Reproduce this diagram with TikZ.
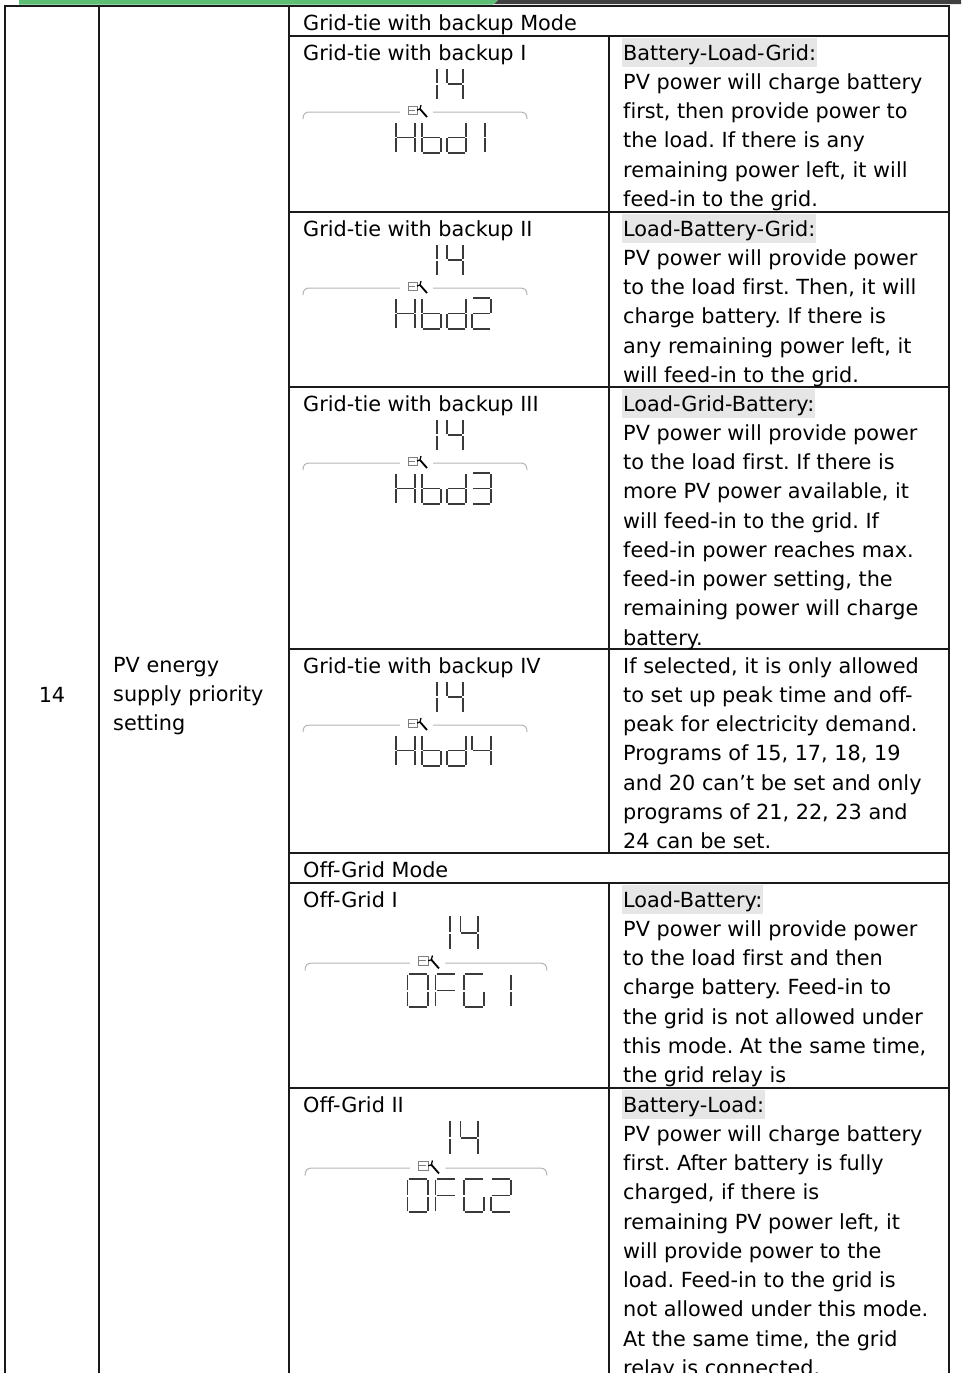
\documentclass[tikz,border=0pt]{standalone}
\usepackage{fontspec}
\setmainfont{DejaVu Sans}[Ligatures=NoCommon]
\frenchspacing
\definecolor{hl}{HTML}{E6E6E6}
\definecolor{topgreen}{HTML}{5CBF75}
\definecolor{topdark}{HTML}{404040}
\definecolor{rulec}{HTML}{1A1A1A}
\definecolor{segc}{HTML}{3A3A3A}
\definecolor{lcdl}{HTML}{B4B4B4}
\newcommand\cellfont{\fontsize{20.8}{29.25}\selectfont}
\def\sgp{0.9}
\def\sgw{19}
\def\sgh{31}
\newcommand\segA{\draw[segline] (\sgp,0)--(\sgw-\sgp,0);}
\newcommand\segB{\draw[segline] (\sgw,\sgp)--(\sgw,\sgh/2-\sgp);}
\newcommand\segC{\draw[segline] (\sgw,\sgh/2+\sgp)--(\sgw,\sgh-\sgp);}
\newcommand\segD{\draw[segline] (\sgp,\sgh)--(\sgw-\sgp,\sgh);}
\newcommand\segE{\draw[segline] (0,\sgh/2+\sgp)--(0,\sgh-\sgp);}
\newcommand\segF{\draw[segline] (0,\sgp)--(0,\sgh/2-\sgp);}
\newcommand\segG{\draw[segline] (\sgp,\sgh/2)--(\sgw-\sgp,\sgh/2);}
\newcommand\lcdch[3]{\begin{scope}[shift={(#1,#2)}]\foreach \s in {#3}{\csname seg\s\endcsname}\end{scope}}
\newcommand\lcdframe{%
  \def\sgw{16}\def\sgh{32}%
  \lcdch{118}{-44}{B,C}%
  \lcdch{144}{-44}{F,G,B,C}%
  \draw[lcdline] (0,7) .. controls (0,2) and (2,0) .. (7,0) -- (97,0);
  \draw[lcdline] (130,0) -- (217,0) .. controls (222,0) and (224,2) .. (224,7);
  \draw[draw=gray, line width=0.8pt] (105,-6) rectangle (114,2);
  \draw[draw=gray, line width=0.8pt] (105,-2) -- (112,-2);
  \draw[draw=black, line width=1.8pt] (117,-3) -- (124,5);
  \draw[draw=black, line width=1.3pt] (114,-2) -- (117,-3) -- (118,-7);
  \def\sgw{19}\def\sgh{31}%
}
\begin{document}
\begin{tikzpicture}[x=1pt,y=-1pt,
  rule/.style={draw=rulec, line width=1.3pt},
  txt/.style={anchor=base west, inner sep=0pt, font=\cellfont},
  hlbox/.style={anchor=base west, inner xsep=1pt, inner ysep=0pt, fill=hl, text height=22.5pt, text depth=6.5pt, font=\cellfont},
  segline/.style={draw=segc, line width=1.6pt},
  lcdline/.style={draw=lcdl, line width=1pt}]
\useasboundingbox (0,0) rectangle (961,1373);
% top bars
\fill[topgreen] (19,0) -- (498,0) -- (493,4.7) -- (19,4.7) -- cycle;
\fill[topdark] (498,0) -- (961,0) -- (961,4) -- (494,4) -- cycle;
% table rules
\draw[rule] (5,1373) -- (5,6) -- (949,6) -- (949,1373);
\draw[rule] (99,6) -- (99,1373);
\draw[rule] (289,6) -- (289,1373);
\draw[rule] (609,36) -- (609,853);
\draw[rule] (609,883) -- (609,1373);
\foreach \yy in {36,212,387,649,853,883,1088} {\draw[rule] (289,\yy) -- (949,\yy);}
% left columns
\node[txt, anchor=base] (num) at (52,702) {14};
\node[txt] (item) at (113,672) {\parbox[t]{180pt}{\raggedright PV energy\\supply priority\\setting}};
% section titles
\node[txt] (m1) at (303,30) {Grid-tie with backup Mode};
\node[txt] (m2) at (303,877) {Off-Grid Mode};
% Grid-tie I
\node[txt] (t1) at (303,60) {Grid-tie with backup I};
\node[hlbox] (h1) at (622,60) {Battery-Load-Grid:};
\node[txt] (d1) at (623,89.25) {\parbox[t]{400pt}{\raggedright PV power will charge battery\\first, then provide power to\\the load. If there is any\\remaining power left, it will\\feed-in to the grid.}};
% Grid-tie II
\node[txt] (t2) at (303,236) {Grid-tie with backup II};
\node[hlbox] (h2) at (622,236) {Load-Battery-Grid:};
\node[txt] (d2) at (623,265.25) {\parbox[t]{400pt}{\raggedright PV power will provide power\\to the load first. Then, it will\\charge battery. If there is\\any remaining power left, it\\will feed-in to the grid.}};
% Grid-tie III
\node[txt] (t3) at (303,411) {Grid-tie with backup III};
\node[hlbox] (h3) at (622,411) {Load-Grid-Battery:};
\node[txt] (d3) at (623,440.25) {\parbox[t]{400pt}{\raggedright PV power will provide power\\to the load first. If there is\\more PV power available, it\\will feed-in to the grid. If\\feed-in power reaches max.\\feed-in power setting, the\\remaining power will charge\\battery.}};
% Grid-tie IV
\node[txt] (t4) at (303,673) {Grid-tie with backup IV};
\node[txt] (d4) at (623,673) {\parbox[t]{400pt}{\raggedright If selected, it is only allowed\\to set up peak time and off-\\peak for electricity demand.\\Programs of 15, 17, 18, 19\\and 20 can’t be set and only\\programs of 21, 22, 23 and\\24 can be set.}};
% Off-Grid I
\node[txt] (t5) at (303,907) {Off-Grid I};
\node[hlbox] (h5) at (622,907) {Load-Battery:};
\node[txt] (d5) at (623,936.25) {\parbox[t]{400pt}{\raggedright PV power will provide power\\to the load first and then\\charge battery. Feed-in to\\the grid is not allowed under\\this mode. At the same time,\\the grid relay is}};
% Off-Grid II
\node[txt] (t6) at (303,1112) {Off-Grid II};
\node[hlbox] (h6) at (622,1112) {Battery-Load:};
\node[txt] (d6) at (623,1141.25) {\parbox[t]{400pt}{\raggedright PV power will charge battery\\first. After battery is fully\\charged, if there is\\remaining PV power left, it\\will provide power to the\\load. Feed-in to the grid is\\not allowed under this mode.\\At the same time, the grid\\relay is connected.}};
% LCD displays
\begin{scope}[shift={(303,112)}]
  \lcdframe
  \lcdch{93}{10}{F,E,B,C,G}\lcdch{119}{10}{F,E,G,C,D}\lcdch{144}{10}{B,C,G,E,D}\lcdch{163}{10}{B,C}
\end{scope}
\begin{scope}[shift={(303,288)}]
  \lcdframe
  \lcdch{93}{10}{F,E,B,C,G}\lcdch{119}{10}{F,E,G,C,D}\lcdch{144}{10}{B,C,G,E,D}\lcdch{169}{10}{A,B,G,E,D}
\end{scope}
\begin{scope}[shift={(303,463)}]
  \lcdframe
  \lcdch{93}{10}{F,E,B,C,G}\lcdch{119}{10}{F,E,G,C,D}\lcdch{144}{10}{B,C,G,E,D}\lcdch{169}{10}{A,B,G,C,D}
\end{scope}
\begin{scope}[shift={(303,725)}]
  \lcdframe
  \lcdch{93}{10}{F,E,B,C,G}\lcdch{119}{10}{F,E,G,C,D}\lcdch{144}{10}{B,C,G,E,D}\lcdch{169}{10}{F,G,B,C}
\end{scope}
\begin{scope}[shift={(305,963)}, scale=1.08]
  \lcdframe
  \lcdch{95}{10}{A,B,C,D,E,F}\lcdch{121}{10}{A,F,G,E}\lcdch{147}{10}{A,F,E,D,C}\lcdch{172}{10}{B,C}
\end{scope}
\begin{scope}[shift={(305,1168)}, scale=1.08]
  \lcdframe
  \lcdch{95}{10}{A,B,C,D,E,F}\lcdch{121}{10}{A,F,G,E}\lcdch{147}{10}{A,F,E,D,C}\lcdch{172}{10}{A,B,G,E,D}
\end{scope}
\end{tikzpicture}
\end{document}
